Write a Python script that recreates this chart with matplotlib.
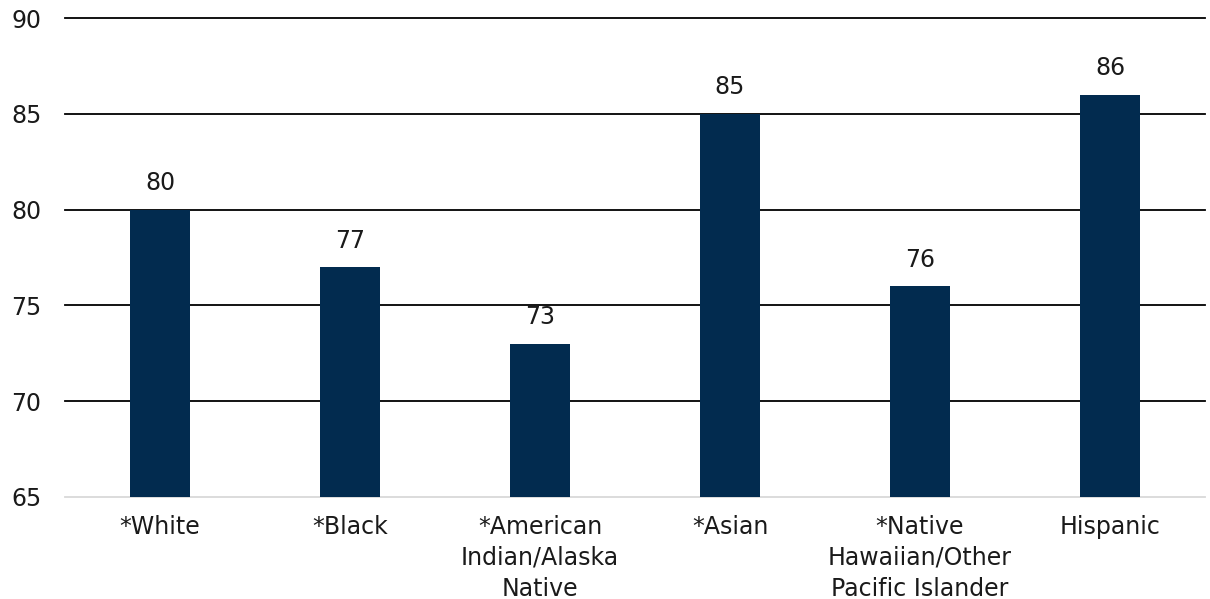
import matplotlib.pyplot as plt

# Data
categories = ['*White', '*Black', '*American\nIndian/Alaska\nNative', '*Asian',
              '*Native\nHawaiian/Other\nPacific Islander', 'Hispanic']
values = [80, 77, 73, 85, 76, 86]
yticks = [65, 70, 75, 80, 85, 90]

plt.rcParams['font.family'] = ['DejaVu Sans']

fig = plt.figure(figsize=(12.10, 5.99), dpi=100)
ax = fig.add_axes([65 / 1210, 1 - 497 / 599, 1140 / 1210, 479 / 599])

x = range(len(categories))
bars = ax.bar(x, values, width=0.315, color='#022B4F', zorder=3)

ax.set_ylim(65, 90)
ax.set_xlim(-0.5, len(categories) - 0.5)
ax.set_yticks(yticks)
ax.set_yticklabels([str(t) for t in yticks], fontsize=17, color='#1a1a1a')
ax.set_xticks(list(x))
ax.set_xticklabels(categories, fontsize=17, color='#1a1a1a', linespacing=1.36)
ax.tick_params(axis='both', length=0)
ax.tick_params(axis='y', pad=17)
ax.tick_params(axis='x', pad=13)

# black horizontal gridlines (except the baseline)
for t in yticks[1:]:
    ax.axhline(t, color='black', linewidth=1.3, zorder=1, clip_on=False)

for s in ['left', 'right', 'top']:
    ax.spines[s].set_visible(False)
ax.spines['bottom'].set_color('#d9d9d9')
ax.spines['bottom'].set_linewidth(1.3)

# value labels above bars
for b, v in zip(bars, values):
    ax.text(b.get_x() + b.get_width() / 2, v + 0.75, str(v),
            ha='center', va='bottom', fontsize=17, color='#1a1a1a')

fig.savefig('out.png', dpi=100)
